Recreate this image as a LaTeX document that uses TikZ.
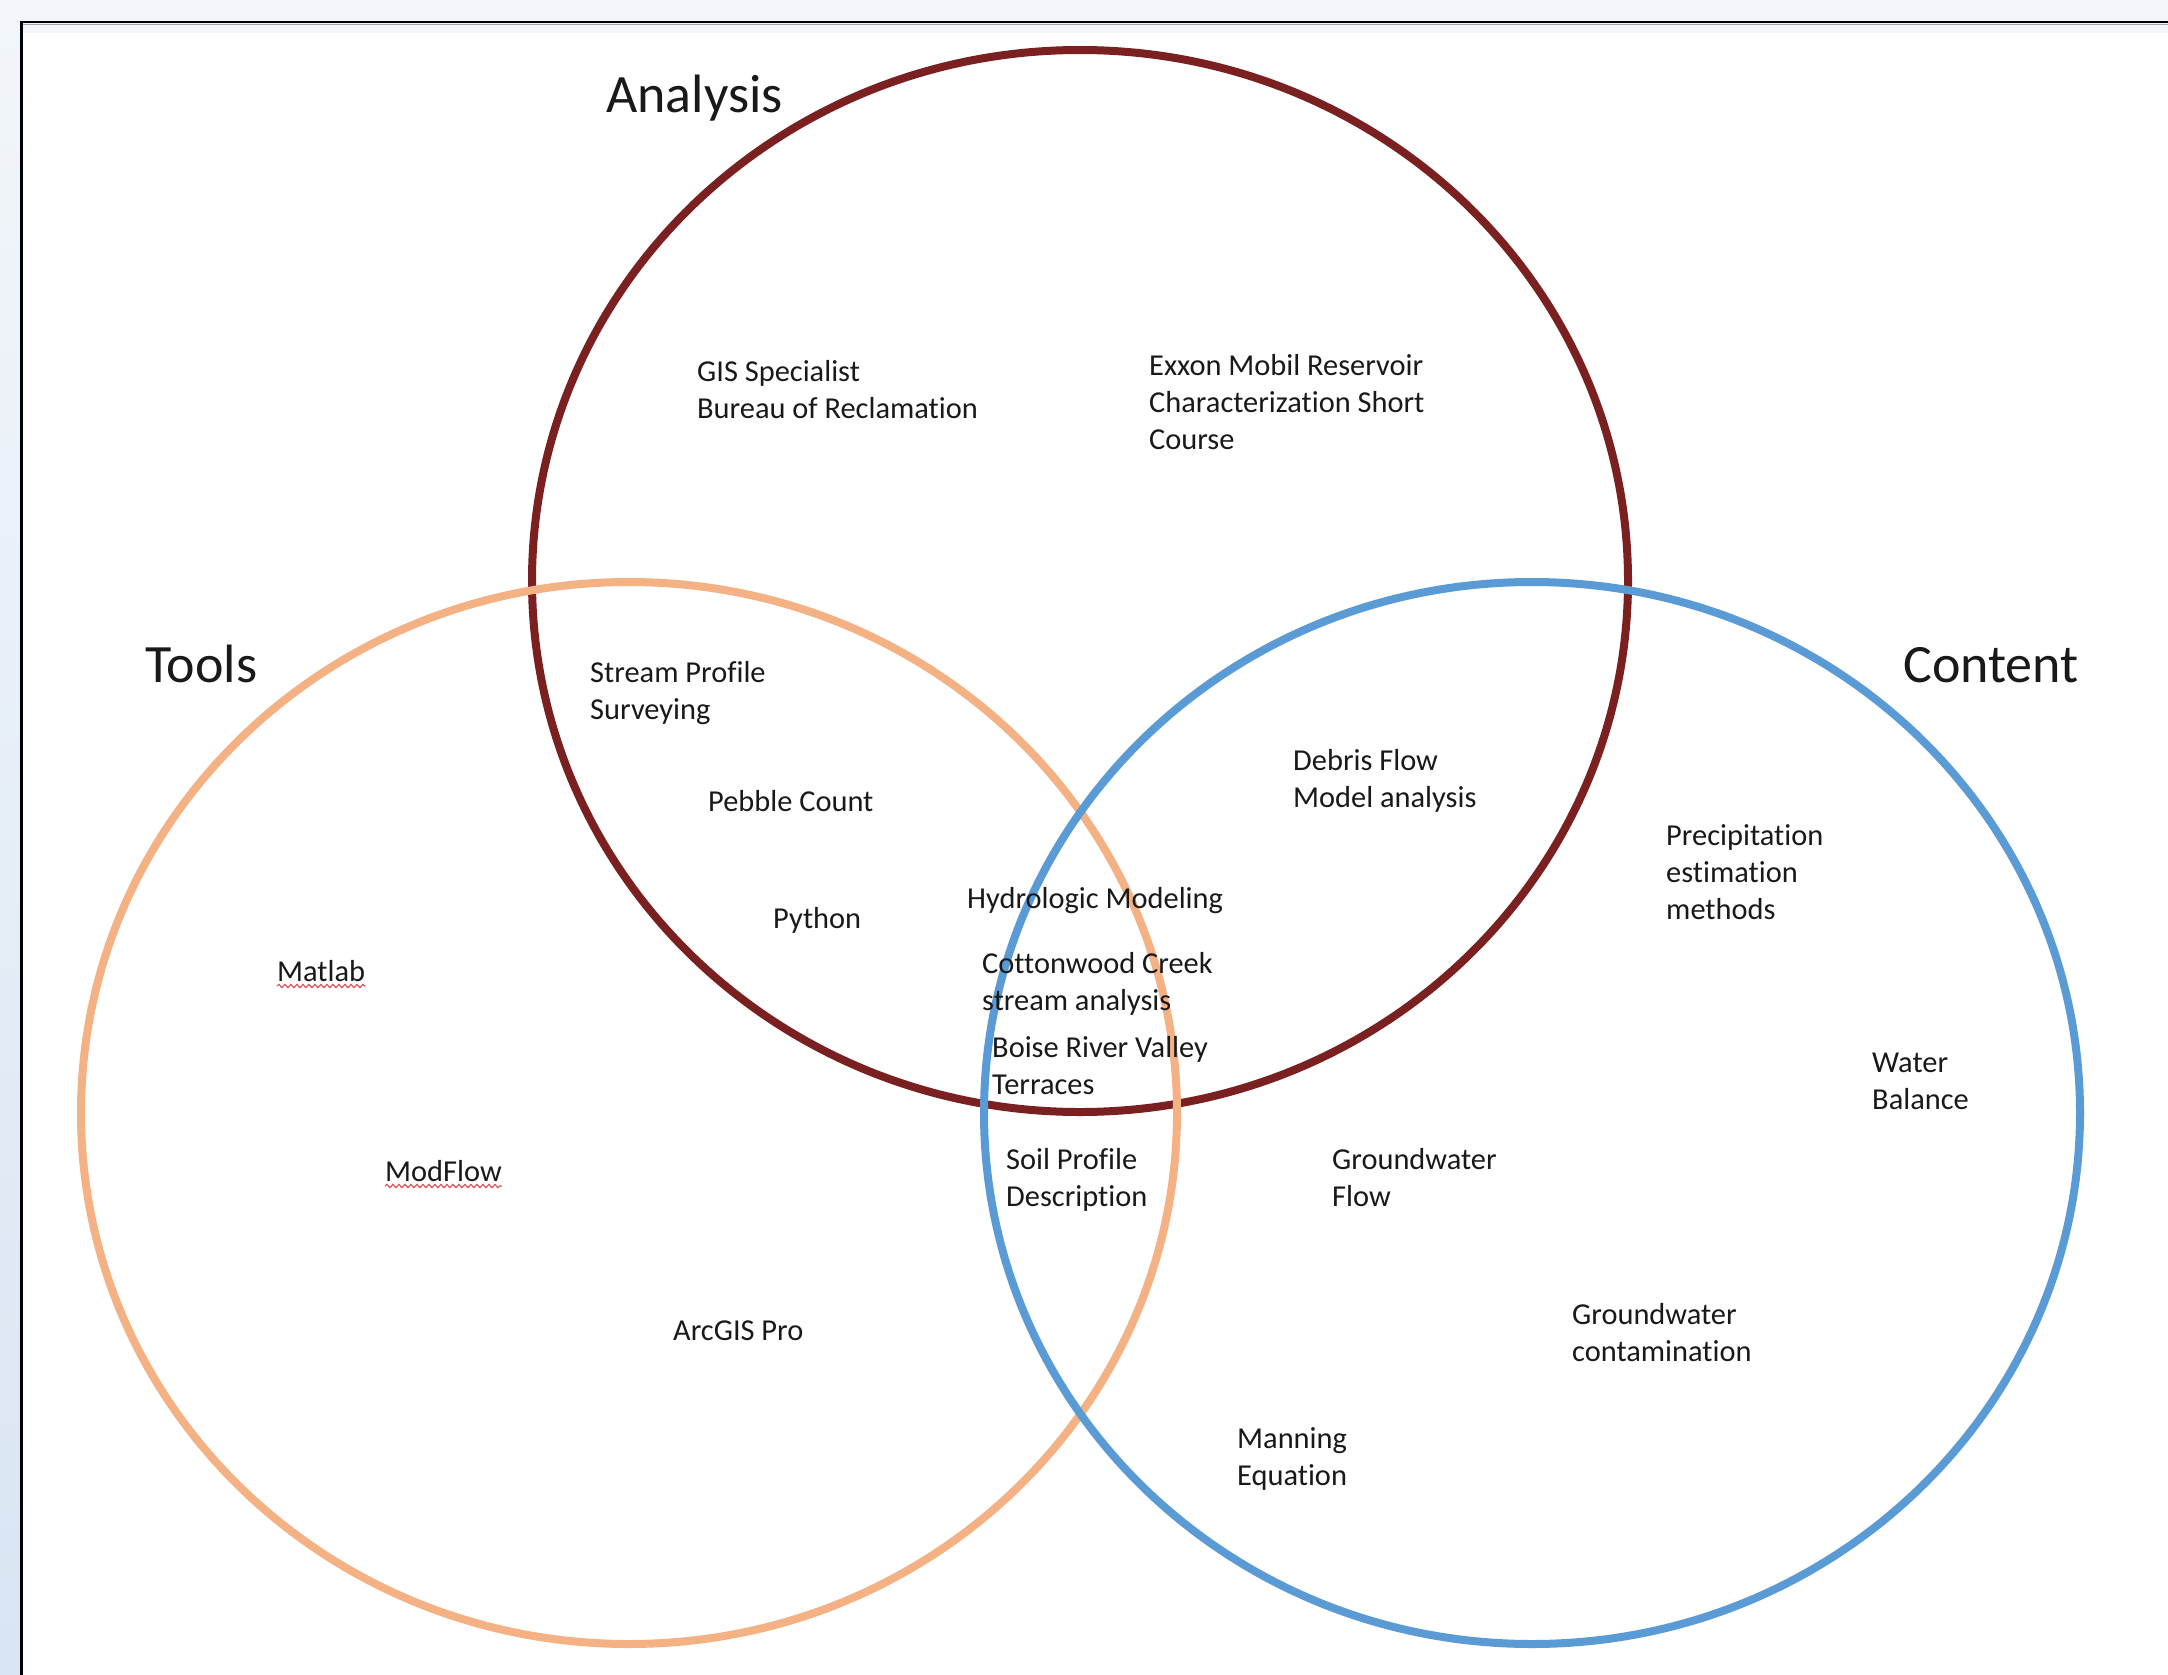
\documentclass[tikz,border=0pt]{standalone}
\usepackage{fontspec}
\setmainfont{Carlito}[Ligatures=NoCommon]
\usetikzlibrary{shapes.geometric,decorations.pathmorphing}
\definecolor{anacol}{RGB}{122,32,32}
\definecolor{toolcol}{RGB}{244,177,131}
\definecolor{contcol}{RGB}{91,155,213}
\definecolor{bgtop}{RGB}{242,246,250}
\definecolor{bgbot}{RGB}{217,229,243}
\definecolor{txt}{RGB}{25,25,25}
\definecolor{spell}{RGB}{230,80,90}
\tikzset{
  setring/.style={ellipse, draw, line width=8pt, minimum width=1096pt, minimum height=1062pt, inner sep=0pt},
  head/.style={anchor=base west, inner sep=0pt, text=txt, font=\fontsize{54}{65}\selectfont},
  item/.style={anchor=base west, inner sep=0pt, text=txt, align=left, font=\fontsize{30.4}{37}\selectfont},
  squiggle/.style={draw=spell, line width=1.2pt, decorate, decoration={snake, amplitude=1.6pt, segment length=6pt}}
}
\begin{document}
\begin{tikzpicture}[x=1pt,y=-1pt]
\useasboundingbox (0,0) rectangle (2168,1675);
% window background and frame
\shade[top color=bgtop, bottom color=bgbot] (0,0) rectangle (2168,1675);
\fill[white] (23,33) rectangle (2168,1675);
\fill[bgtop] (23,23) rectangle (2168,33);
\draw[black, line width=2.5pt] (21.5,1675) -- (21.5,22) -- (2168,22);
\draw[black!35, line width=0.8pt] (23,24.5) -- (2168,24.5);
% the three sets
\node[setring, draw=anacol] (analysis) at (1080,581) {};
\node[setring, draw=toolcol] (tools) at (629,1113) {};
\node[setring, draw=contcol] (content) at (1532,1113) {};
% headings (anchor = baseline)
\node[head] (hAnalysis) at (606,113) {Analysis};
\node[head] (hTools) at (145,682) {Tools};
\node[head] (hContent) at (1903,682) {Content};
% items (anchor = baseline of the last line)
% Analysis only
\node[item] (gis) at (697,418) {GIS Specialist\\Bureau of Reclamation};
\node[item] (exxon) at (1149,449) {Exxon Mobil Reservoir\\Characterization Short\\Course};
% Analysis and Tools
\node[item] (stream) at (590,719) {Stream Profile\\Surveying};
\node[item] (pebble) at (708,811) {Pebble Count};
\node[item] (python) at (773,928) {Python};
% all three
\node[item] (hydro) at (967,908) {Hydrologic Modeling};
\node[item] (cotton) at (982,1010) {Cottonwood Creek\\stream analysis};
\node[item] (boise) at (992,1094) {Boise River Valley\\Terraces};
% Analysis and Content
\node[item] (debris) at (1293,807) {Debris Flow\\Model analysis};
% Content only
\node[item] (precip) at (1666,919) {Precipitation\\estimation\\methods};
\node[item] (water) at (1872,1109) {Water\\Balance};
\node[item] (gwflow) at (1332,1206) {Groundwater\\Flow};
\node[item] (gwcont) at (1572,1361) {Groundwater\\contamination};
\node[item] (manning) at (1237,1485) {Manning\\Equation};
% Tools and Content
\node[item] (soil) at (1006,1206) {Soil Profile\\Description};
% Tools only
\node[item] (matlab) at (277,981) {Matlab};
\node[item] (modflow) at (385,1181) {ModFlow};
\node[item] (arcgis) at (673,1340) {ArcGIS Pro};
% spell-check underlines
\draw[squiggle] ([yshift=-5pt]matlab.base west) -- ([yshift=-5pt]matlab.base east);
\draw[squiggle] ([yshift=-5pt]modflow.base west) -- ([yshift=-5pt]modflow.base east);
\end{tikzpicture}
\end{document}
